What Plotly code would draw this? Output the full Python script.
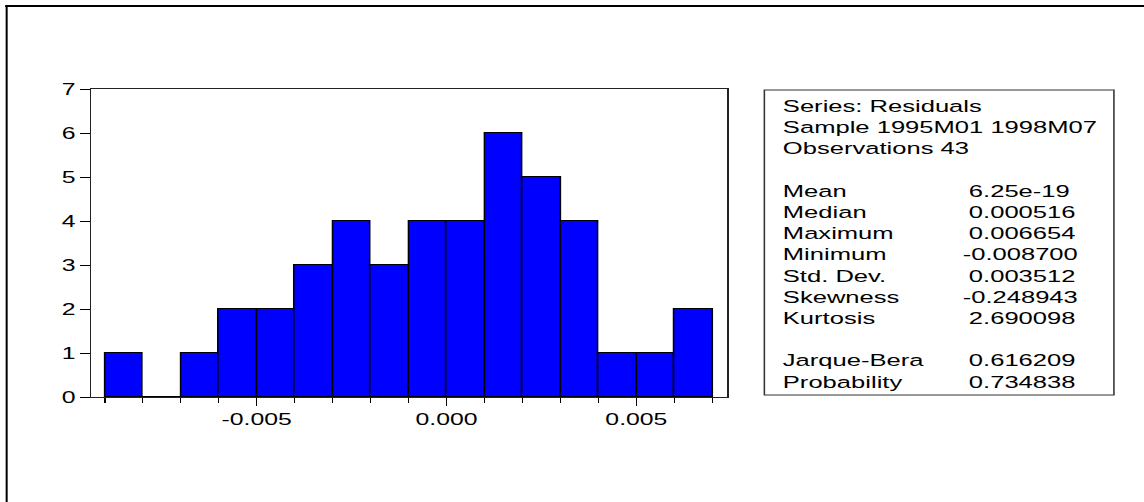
import plotly.graph_objects as go

# Histogram of residuals: bin centres and counts (bin width 0.001)
bin_centers = [-0.0085, -0.0075, -0.0065, -0.0055, -0.0045, -0.0035, -0.0025, -0.0015,
               -0.0005, 0.0005, 0.0015, 0.0025, 0.0035, 0.0045, 0.0055, 0.0065]
counts = [1, 0, 1, 2, 2, 3, 4, 3, 4, 4, 6, 5, 4, 1, 1, 2]
bin_width = 0.001

x_tickvals = [-0.005, 0.0, 0.005]
x_ticktext = ["-0.005", "0.000", "0.005"]

header_lines = ["Series: Residuals", "Sample 1995M01 1998M07", "Observations 43"]
stat_names = ["Mean", "Median", "Maximum", "Minimum", "Std. Dev.", "Skewness", "Kurtosis"]
stat_values = ["6.25e-19", "0.000516", "0.006654", "-0.008700", "0.003512", "-0.248943", "2.690098"]
test_names = ["Jarque-Bera", "Probability"]
test_values = ["0.616209", "0.734838"]

# The figure is laid out narrow and stretched horizontally to the page width
PAGE_W, PAGE_H = 1144, 502
W = 738
SX = PAGE_W / W

L, R, T, B = 59, 269, 89, 105
PW = W - L - R
PH = PAGE_H - T - B
FONT = "Liberation Sans, Arial, sans-serif"


def xp(px):
    return (px - L) / PW


def yp(py):
    return (PAGE_H - B - py) / PH


fig = go.Figure()
fig.add_trace(go.Bar(
    x=bin_centers, y=counts, width=bin_width,
    marker=dict(color="#0000FF", line=dict(color="black", width=1)),
    hoverinfo="skip",
))

# statistics panel
shapes = [
    dict(type="rect", xref="paper", yref="paper",
         x0=xp(493.1), x1=xp(718.6), y0=yp(395), y1=yp(90),
         line=dict(color="#333333", width=1), fillcolor="rgba(0,0,0,0)"),
    # page frame: top and left rules
    dict(type="line", xref="paper", yref="paper",
         x0=xp(3.3), x1=xp(W + 5), y0=yp(6), y1=yp(6),
         line=dict(color="black", width=2)),
    dict(type="line", xref="paper", yref="paper",
         x0=xp(4.3), x1=xp(4.3), y0=yp(6), y1=yp(PAGE_H + 5),
         line=dict(color="black", width=1.3)),
]

annotations = []
LABEL_X = 502.5
VALUE_X = 623.2
STEP = 21.2
FS = 16.5


def add_text(text, px, py):
    annotations.append(dict(
        text=text, xref="paper", yref="paper", x=xp(px), y=yp(py),
        xanchor="left", yanchor="middle", showarrow=False,
        font=dict(family=FONT, size=FS, color="black"),
    ))


y = 106.0
for line in header_lines:
    add_text(line, LABEL_X, y)
    y += STEP
y += STEP
for name, val in zip(stat_names, stat_values):
    add_text(name, LABEL_X, y)
    add_text(val, VALUE_X - (3.9 if val.startswith("-") else 0), y)
    y += STEP
y += STEP
for name, val in zip(test_names, test_values):
    add_text(name, LABEL_X, y)
    add_text(val, VALUE_X, y)
    y += STEP

fig.update_layout(
    width=W, height=PAGE_H,
    margin=dict(l=L, r=R, t=T, b=B, pad=0),
    paper_bgcolor="white", plot_bgcolor="white",
    showlegend=False, bargap=0,
    shapes=shapes, annotations=annotations,
    font=dict(family=FONT, size=16, color="black"),
)
fig.update_xaxes(
    range=[-0.00935, 0.007387],
    tickmode="array", tickvals=x_tickvals, ticktext=x_ticktext,
    ticks="outside", ticklen=8, tickwidth=1, tickcolor="black",
    minor=dict(dtick=bin_width, tick0=0, ticks="outside", ticklen=5,
               tickwidth=1, tickcolor="black", showgrid=False),
    showgrid=False, zeroline=False,
    showline=True, mirror=True, linecolor="#222222", linewidth=1.2,
    tickfont=dict(family=FONT, size=16, color="black"),
)
fig.update_yaxes(
    range=[0, 7], dtick=1, tick0=0,
    ticks="outside", ticklen=6, tickwidth=1, tickcolor="black",
    showgrid=False, zeroline=False,
    showline=True, mirror=True, linecolor="#222222", linewidth=1.2,
    tickfont=dict(family=FONT, size=16, color="black"),
)

stretch_js = (
    "document.body.style.margin='0';"
    "var gd=document.getElementById('{plot_id}');"
    "gd.style.transformOrigin='0 0';"
    "gd.style.transform='scaleX(" + str(SX) + ")';"
)

fig.write_html("out.html", config={"displayModeBar": False}, post_script=stretch_js)
